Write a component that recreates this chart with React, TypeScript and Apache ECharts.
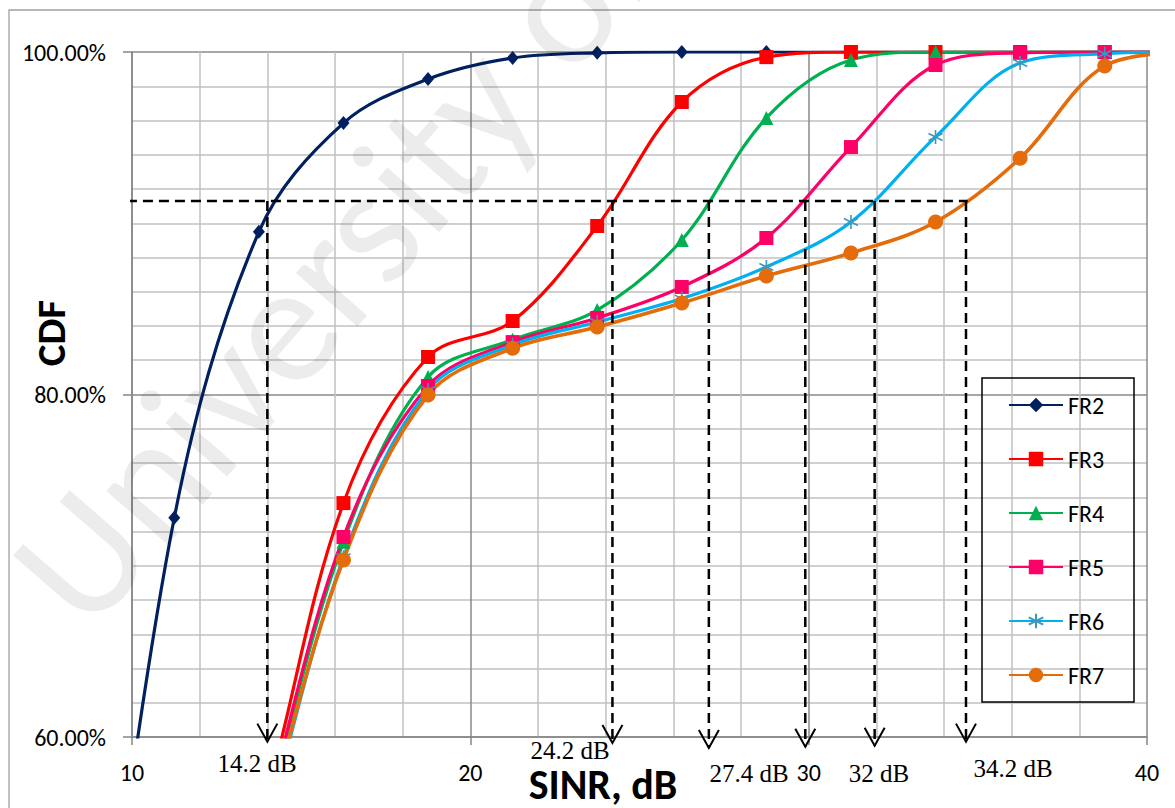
import React, { useEffect, useRef } from 'react';
import * as echarts from 'echarts';

// SINR bin centres (dB)
const sinrBins = [8.75, 11.25, 13.75, 16.25, 18.75, 21.25, 23.75, 26.25, 28.75, 31.25, 33.75, 36.25, 38.75, 41.25];

// CDF values (%) per frequency-reuse scheme
const fr2 = [39, 72.8, 89.5, 95.85, 98.42, 99.65, 99.95, 100, 100, 100, 100, 100, 100, 100];
const fr3 = [30, 42, 55, 73.66, 82.19, 84.29, 89.84, 97.08, 99.7, 100, 100, 100, 100, 100];
const fr4 = [28, 40, 54.2, 71.4, 81.02, 83.2, 84.93, 89.02, 96.15, 99.53, 100, 100, 100, 100];
const fr5 = [28, 40, 54.4, 71.68, 80.5, 83.06, 84.47, 86.28, 89.14, 94.45, 99.24, 99.95, 100, 100];
const fr6 = [27, 39, 53.4, 70.5, 80.26, 82.9, 84.23, 85.6, 87.45, 90.07, 95.04, 99.36, 99.9, 100];
const fr7 = [27, 39, 53.8, 70.34, 79.97, 82.7, 83.94, 85.34, 86.92, 88.26, 90.07, 93.8, 99.18, 100];

const seriesNames = ['FR2', 'FR3', 'FR4', 'FR5', 'FR6', 'FR7'];

// Annotation values
const cdfThreshold = 91.3;
const thresholdLineStart = 9.85;
const thresholdLineEnd = 34.7;
const arrowSinr = [14.0, 24.2, 27.05, 29.9, 31.95, 34.65];
const arrowTipCdf = [59.73, 59.65, 59.36, 59.43, 59.49, 59.73];
const annotationLabels = ['14.2 dB', '24.2 dB', '27.4 dB', '32 dB', '34.2 dB'];

// Axis setup
const xMin = 10;
const xMax = 40;
const xStep = 10;
const yMin = 60;
const yMax = 100;
const yStep = 20;

const SANS = 'Carlito, Calibri, "Liberation Sans", Arial, sans-serif';
const SERIF = '"Liberation Serif", "Times New Roman", serif';

const asterisk = 'path://M5 0V10M0.7 2.5L9.3 7.5M9.3 2.5L0.7 7.5';

export default function App() {
  const ref = useRef<HTMLDivElement>(null);

  useEffect(() => {
    if (!ref.current) return;
    const chart = echarts.init(ref.current, undefined, { renderer: 'svg' });

    const toPairs = (vals: number[]) => sinrBins.map((x, i) => [x, vals[i]]);

    const mk = (name: string, vals: number[], color: string, symbol: string, size: number | number[], extra: any = {}) => ({
      name,
      type: 'line',
      data: toPairs(vals),
      smooth: 0.35,
      symbol,
      symbolSize: size,
      showSymbol: true,
      clip: true,
      z: 3,
      lineStyle: { color, width: 3.2 },
      itemStyle: { color },
      emphasis: { disabled: true },
      ...extra,
    });

    const option: any = {
      animation: false,
      backgroundColor: '#ffffff',
      grid: { left: 132, right: 28, top: 52, bottom: 71, containLabel: false, outerBoundsMode: 'none' },
      xAxis: {
        type: 'value',
        min: xMin,
        max: xMax,
        interval: xStep,
        axisLine: { show: true, lineStyle: { color: '#868686', width: 1.5 } },
        axisTick: { show: true, length: 8, lineStyle: { color: '#868686', width: 1.5 } },
        minorTick: { show: false, splitNumber: 5 },
        splitLine: { show: true, lineStyle: { color: '#8a8a8a', width: 1.5 } },
        minorSplitLine: { show: true, lineStyle: { color: '#c0c0c0', width: 1.5 } },
        axisLabel: { margin: 23, fontSize: 24, color: '#000', fontFamily: SANS },
      },
      yAxis: {
        type: 'value',
        min: yMin,
        max: yMax,
        interval: yStep,
        axisLine: { show: true, lineStyle: { color: '#868686', width: 1.5 } },
        axisTick: { show: true, length: 9, lineStyle: { color: '#868686', width: 1.5 } },
        minorTick: { show: false, splitNumber: 10 },
        splitLine: { show: true, lineStyle: { color: '#8a8a8a', width: 1.5 } },
        minorSplitLine: { show: true, lineStyle: { color: '#c0c0c0', width: 1.5 } },
        axisLabel: {
          margin: 26,
          fontSize: 24,
          color: '#000',
          fontFamily: SANS,
          formatter: (v: number) => v.toFixed(2) + '%',
        },
      },
      legend: {
        data: seriesNames,
        orient: 'vertical',
        left: 1008,
        top: 393,
        itemWidth: 54,
        itemHeight: 18,
        itemGap: 30,
        padding: 0,
        textStyle: { fontSize: 24, color: '#000', fontFamily: SANS, lineHeight: 24 },
        selectedMode: false,
      },
      graphic: [
        {
          type: 'rect',
          z: 0,
          shape: { x: 9, y: 10, width: 1300, height: 900 },
          style: { fill: 'none', stroke: '#a0a0a0', lineWidth: 1.3 },
          silent: true,
        },
        {
          type: 'text',
          z: 100,
          x: 44,
          y: 598,
          rotation: (49 * Math.PI) / 180,
          silent: true,
          style: {
            text: 'University of',
            fontSize: 171,
            fontFamily: SANS,
            fill: 'rgba(0,0,0,0.075)',
            align: 'left',
            verticalAlign: 'middle',
          },
        },
        {
          type: 'rect',
          z: 50,
          shape: { x: 982, y: 378, width: 152, height: 324 },
          style: { fill: 'none', stroke: '#000', lineWidth: 1.5 },
          silent: true,
        },
        {
          type: 'text',
          z: 50,
          x: 51,
          y: 333,
          rotation: Math.PI / 2,
          style: {
            text: 'CDF',
            fontSize: 41,
            fontWeight: 'bold',
            fontFamily: SANS,
            fill: '#000',
            align: 'center',
            verticalAlign: 'middle',
          },
        },
        {
          type: 'text',
          z: 50,
          x: 603,
          y: 784,
          style: {
            text: 'SINR, dB',
            fontSize: 42,
            fontWeight: 'bold',
            fontFamily: SANS,
            fill: '#000',
            align: 'center',
            verticalAlign: 'middle',
          },
        },
        ...[
          [257, 763],
          [570, 750],
          [749, 773],
          [879, 773],
          [1013, 768],
        ].map((p, i) => ({
          type: 'text',
          z: 50,
          x: p[0],
          y: p[1],
          style: {
            text: annotationLabels[i],
            fontSize: 25,
            fontFamily: SERIF,
            fill: '#000',
            align: 'center',
            verticalAlign: 'middle',
          },
        })),
      ],
      series: [
        mk('FR2', fr2, '#002060', 'diamond', [12, 14]),
        mk('FR3', fr3, '#ff0000', 'rect', 14),
        mk('FR4', fr4, '#00b050', 'triangle', 14),
        mk('FR5', fr5, '#ff0066', 'rect', 14),
        mk('FR6', fr6, '#00b0f0', asterisk, 14, {
          itemStyle: { color: 'rgba(0,0,0,0)', borderColor: '#3b98bd', borderWidth: 1.6 },
        }),
        mk('FR7', fr7, '#e46c0a', 'circle', 15, {
          lineStyle: { color: '#e46c0a', width: 3.6 },
        }),
        {
          name: 'threshold',
          type: 'line',
          data: [
            [thresholdLineStart, cdfThreshold],
            [thresholdLineEnd, cdfThreshold],
          ],
          symbol: 'none',
          clip: false,
          silent: true,
          z: 5,
          lineStyle: { color: '#000', width: 2.5, type: [10, 6] },
        },
        {
          name: 'arrows',
          type: 'custom',
          clip: false,
          silent: true,
          z: 5,
          data: arrowSinr.map((x, i) => [x, arrowTipCdf[i]]),
          renderItem: (params: any, api: any) => {
            const x = api.value(0);
            const tip = api.value(1);
            const top = api.coord([x, cdfThreshold]);
            const bot = api.coord([x, tip]);
            return {
              type: 'group',
              children: [
                {
                  type: 'line',
                  shape: { x1: top[0], y1: top[1], x2: bot[0], y2: bot[1] },
                  style: { stroke: '#000', lineWidth: 2.5, lineDash: [10, 6], fill: 'none' },
                },
                {
                  type: 'polyline',
                  shape: {
                    points: [
                      [bot[0] - 10, bot[1] - 18],
                      [bot[0], bot[1]],
                      [bot[0] + 10, bot[1] - 18],
                    ],
                  },
                  style: { stroke: '#000', lineWidth: 2, fill: 'none' },
                },
              ],
            };
          },
        },
      ],
    };

    chart.setOption(option);
    return () => chart.dispose();
  }, []);

  return (
    <div
      ref={ref}
      style={{ position: 'fixed', left: 0, top: 0, width: 1175, height: 808, background: '#fff' }}
    />
  );
}
